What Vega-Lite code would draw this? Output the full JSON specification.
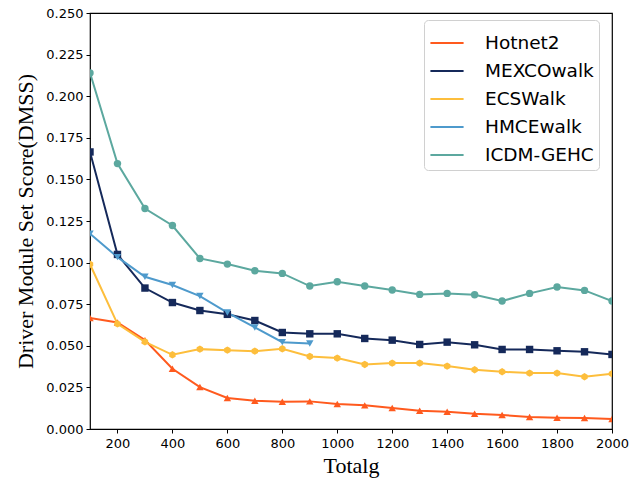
{
  "$schema": "https://vega.github.io/schema/vega-lite/v6.json",
  "width": 522,
  "height": 416,
  "autosize": {"type": "none"},
  "padding": {"left": 90, "top": 13, "right": 19, "bottom": 53},
  "background": "white",
  "config": {
    "view": {"stroke": "black", "strokeWidth": 1.2},
    "axis": {
      "grid": false,
      "domain": false,
      "tickColor": "black",
      "tickSize": 4,
      "labelFont": "DejaVu Sans",
      "labelFontSize": 13,
      "labelColor": "black",
      "titleFont": "Liberation Serif",
      "titleFontSize": 22,
      "titleFontWeight": "normal",
      "titleColor": "black"
    }
  },
  "data": {
    "values": [
      {"method": "Hotnet2", "totalg": 100, "score": 0.0667},
      {"method": "Hotnet2", "totalg": 200, "score": 0.0640},
      {"method": "Hotnet2", "totalg": 300, "score": 0.0534},
      {"method": "Hotnet2", "totalg": 400, "score": 0.0362},
      {"method": "Hotnet2", "totalg": 500, "score": 0.0252},
      {"method": "Hotnet2", "totalg": 600, "score": 0.0186},
      {"method": "Hotnet2", "totalg": 700, "score": 0.0170},
      {"method": "Hotnet2", "totalg": 800, "score": 0.0164},
      {"method": "Hotnet2", "totalg": 900, "score": 0.0166},
      {"method": "Hotnet2", "totalg": 1000, "score": 0.0150},
      {"method": "Hotnet2", "totalg": 1100, "score": 0.0142},
      {"method": "Hotnet2", "totalg": 1200, "score": 0.0126},
      {"method": "Hotnet2", "totalg": 1300, "score": 0.0110},
      {"method": "Hotnet2", "totalg": 1400, "score": 0.0104},
      {"method": "Hotnet2", "totalg": 1500, "score": 0.0092},
      {"method": "Hotnet2", "totalg": 1600, "score": 0.0084},
      {"method": "Hotnet2", "totalg": 1700, "score": 0.0072},
      {"method": "Hotnet2", "totalg": 1800, "score": 0.0068},
      {"method": "Hotnet2", "totalg": 1900, "score": 0.0066},
      {"method": "Hotnet2", "totalg": 2000, "score": 0.0060},
      {"method": "MEXCOwalk", "totalg": 100, "score": 0.1665},
      {"method": "MEXCOwalk", "totalg": 200, "score": 0.1049},
      {"method": "MEXCOwalk", "totalg": 300, "score": 0.0847},
      {"method": "MEXCOwalk", "totalg": 400, "score": 0.0760},
      {"method": "MEXCOwalk", "totalg": 500, "score": 0.0712},
      {"method": "MEXCOwalk", "totalg": 600, "score": 0.0689},
      {"method": "MEXCOwalk", "totalg": 700, "score": 0.0652},
      {"method": "MEXCOwalk", "totalg": 800, "score": 0.0580},
      {"method": "MEXCOwalk", "totalg": 900, "score": 0.0572},
      {"method": "MEXCOwalk", "totalg": 1000, "score": 0.0572},
      {"method": "MEXCOwalk", "totalg": 1100, "score": 0.0544},
      {"method": "MEXCOwalk", "totalg": 1200, "score": 0.0534},
      {"method": "MEXCOwalk", "totalg": 1300, "score": 0.0508},
      {"method": "MEXCOwalk", "totalg": 1400, "score": 0.0522},
      {"method": "MEXCOwalk", "totalg": 1500, "score": 0.0506},
      {"method": "MEXCOwalk", "totalg": 1600, "score": 0.0478},
      {"method": "MEXCOwalk", "totalg": 1700, "score": 0.0478},
      {"method": "MEXCOwalk", "totalg": 1800, "score": 0.0470},
      {"method": "MEXCOwalk", "totalg": 1900, "score": 0.0464},
      {"method": "MEXCOwalk", "totalg": 2000, "score": 0.0448},
      {"method": "ECSWalk", "totalg": 100, "score": 0.0990},
      {"method": "ECSWalk", "totalg": 200, "score": 0.0632},
      {"method": "ECSWalk", "totalg": 300, "score": 0.0524},
      {"method": "ECSWalk", "totalg": 400, "score": 0.0446},
      {"method": "ECSWalk", "totalg": 500, "score": 0.0480},
      {"method": "ECSWalk", "totalg": 600, "score": 0.0474},
      {"method": "ECSWalk", "totalg": 700, "score": 0.0468},
      {"method": "ECSWalk", "totalg": 800, "score": 0.0482},
      {"method": "ECSWalk", "totalg": 900, "score": 0.0436},
      {"method": "ECSWalk", "totalg": 1000, "score": 0.0426},
      {"method": "ECSWalk", "totalg": 1100, "score": 0.0388},
      {"method": "ECSWalk", "totalg": 1200, "score": 0.0396},
      {"method": "ECSWalk", "totalg": 1300, "score": 0.0396},
      {"method": "ECSWalk", "totalg": 1400, "score": 0.0378},
      {"method": "ECSWalk", "totalg": 1500, "score": 0.0356},
      {"method": "ECSWalk", "totalg": 1600, "score": 0.0344},
      {"method": "ECSWalk", "totalg": 1700, "score": 0.0336},
      {"method": "ECSWalk", "totalg": 1800, "score": 0.0336},
      {"method": "ECSWalk", "totalg": 1900, "score": 0.0314},
      {"method": "ECSWalk", "totalg": 2000, "score": 0.0332},
      {"method": "HMCEwalk", "totalg": 100, "score": 0.1173},
      {"method": "HMCEwalk", "totalg": 200, "score": 0.1033},
      {"method": "HMCEwalk", "totalg": 300, "score": 0.0915},
      {"method": "HMCEwalk", "totalg": 400, "score": 0.0865},
      {"method": "HMCEwalk", "totalg": 500, "score": 0.0799},
      {"method": "HMCEwalk", "totalg": 600, "score": 0.0700},
      {"method": "HMCEwalk", "totalg": 700, "score": 0.0610},
      {"method": "HMCEwalk", "totalg": 800, "score": 0.0522},
      {"method": "HMCEwalk", "totalg": 900, "score": 0.0514},
      {"method": "ICDM-GEHC", "totalg": 100, "score": 0.2140},
      {"method": "ICDM-GEHC", "totalg": 200, "score": 0.1595},
      {"method": "ICDM-GEHC", "totalg": 300, "score": 0.1325},
      {"method": "ICDM-GEHC", "totalg": 400, "score": 0.1223},
      {"method": "ICDM-GEHC", "totalg": 500, "score": 0.1025},
      {"method": "ICDM-GEHC", "totalg": 600, "score": 0.0991},
      {"method": "ICDM-GEHC", "totalg": 700, "score": 0.0951},
      {"method": "ICDM-GEHC", "totalg": 800, "score": 0.0935},
      {"method": "ICDM-GEHC", "totalg": 900, "score": 0.0859},
      {"method": "ICDM-GEHC", "totalg": 1000, "score": 0.0885},
      {"method": "ICDM-GEHC", "totalg": 1100, "score": 0.0859},
      {"method": "ICDM-GEHC", "totalg": 1200, "score": 0.0835},
      {"method": "ICDM-GEHC", "totalg": 1300, "score": 0.0809},
      {"method": "ICDM-GEHC", "totalg": 1400, "score": 0.0815},
      {"method": "ICDM-GEHC", "totalg": 1500, "score": 0.0807},
      {"method": "ICDM-GEHC", "totalg": 1600, "score": 0.0769},
      {"method": "ICDM-GEHC", "totalg": 1700, "score": 0.0815},
      {"method": "ICDM-GEHC", "totalg": 1800, "score": 0.0853},
      {"method": "ICDM-GEHC", "totalg": 1900, "score": 0.0833},
      {"method": "ICDM-GEHC", "totalg": 2000, "score": 0.0769}
    ]
  },
  "encoding": {
    "x": {
      "field": "totalg",
      "type": "quantitative",
      "scale": {"domain": [100, 2000], "nice": false, "zero": false},
      "axis": {"values": [200, 400, 600, 800, 1000, 1200, 1400, 1600, 1800, 2000], "format": "d", "labelOverlap": false, "labelFlush": false, "labelBound": false, "title": "Totalg", "titlePadding": 5, "labelPadding": 4}
    },
    "y": {
      "field": "score",
      "type": "quantitative",
      "scale": {"domain": [0, 0.25], "nice": false},
      "axis": {"values": [0, 0.025, 0.05, 0.075, 0.1, 0.125, 0.15, 0.175, 0.2, 0.225, 0.25], "format": ".3f", "labelOverlap": false, "labelFlush": false, "title": "Driver Module Set Score(DMSS)", "titlePadding": 8, "labelPadding": 3}
    },
    "color": {
      "field": "method",
      "type": "nominal",
      "scale": {
        "domain": ["Hotnet2", "MEXCOwalk", "ECSWalk", "HMCEwalk", "ICDM-GEHC"],
        "range": ["#FF5A1E", "#15295A", "#FDBE3C", "#4E9ACC", "#5CA89F"]
      },
      "legend": {
        "title": null,
        "orient": "none",
        "legendX": 334,
        "legendY": 7,
        "symbolType": "stroke",
        "symbolSize": 1100,
        "symbolStrokeWidth": 2,
        "labelFont": "DejaVu Sans",
        "labelFontSize": 18.5,
        "labelColor": "black",
        "labelOffset": 20,
        "rowPadding": -7,
        "padding": 5,
        "strokeColor": "#d0d0d0",
        "cornerRadius": 4,
        "fillColor": "white"
      }
    }
  },
  "layer": [
    {
      "mark": {"type": "line", "strokeWidth": 2, "clip": true}
    },
    {
      "transform": [{"filter": "datum.method === 'Hotnet2'"}],
      "mark": {"type": "point", "filled": true, "opacity": 1, "size": 55, "clip": true, "shape": "triangle-up"}
    },
    {
      "transform": [{"filter": "datum.method === 'MEXCOwalk'"}],
      "mark": {"type": "point", "filled": true, "opacity": 1, "size": 55, "clip": true, "shape": "square"}
    },
    {
      "transform": [{"filter": "datum.method === 'ECSWalk'"}],
      "mark": {"type": "point", "filled": true, "opacity": 1, "size": 55, "clip": true, "shape": "M0,-1L0.866,-0.5L0.866,0.5L0,1L-0.866,0.5L-0.866,-0.5Z"}
    },
    {
      "transform": [{"filter": "datum.method === 'HMCEwalk'"}],
      "mark": {"type": "point", "filled": true, "opacity": 1, "size": 55, "clip": true, "shape": "triangle-down"}
    },
    {
      "transform": [{"filter": "datum.method === 'ICDM-GEHC'"}],
      "mark": {"type": "point", "filled": true, "opacity": 1, "size": 55, "clip": true, "shape": "circle"}
    }
  ]
}
